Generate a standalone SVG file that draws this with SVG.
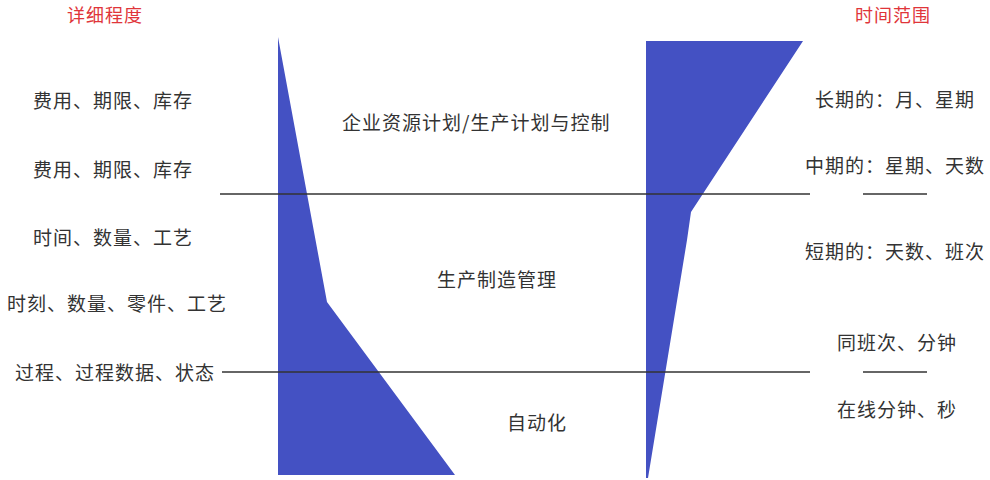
<svg xmlns="http://www.w3.org/2000/svg" width="990" height="480" viewBox="0 0 990 480">
<style>
.t{font-family:"Noto Sans CJK SC","Noto Sans",sans-serif;font-size:19px;fill:#333;letter-spacing:1px}
.h{font-family:"Noto Sans CJK SC","Noto Sans",sans-serif;font-size:18px;fill:#e0353a;letter-spacing:1px}
.ln{stroke:#333;stroke-width:1.5;fill:none}
.blue{fill:#4451c3}
</style>
<rect width="990" height="480" fill="#fff"/>
<g id="shapes">
<polygon class="blue" points="278,37 327,302 455,475 278,475"/>
<polygon class="blue" points="646,41 803,41 691,212 687,240 648,478 646,478"/>
</g>
<g id="connectors">
<line class="ln" x1="220" y1="194" x2="810" y2="194"/>
<line class="ln" x1="863" y1="194" x2="927" y2="194"/>
<line class="ln" x1="222" y1="372" x2="810" y2="372"/>
<line class="ln" x1="863" y1="372" x2="927" y2="372"/>
</g>
<g id="left-labels">
<text class="h" x="67" y="22">详细程度</text>
<text class="t" x="33" y="108">费用、期限、库存</text>
<text class="t" x="33" y="177">费用、期限、库存</text>
<text class="t" x="33" y="245">时间、数量、工艺</text>
<text class="t" x="7" y="311">时刻、数量、零件、工艺</text>
<text class="t" x="15" y="380">过程、过程数据、状态</text>
</g>
<g id="center-labels">
<text class="t" x="342" y="130">企业资源计划/生产计划与控制</text>
<text class="t" x="437" y="287">生产制造管理</text>
<text class="t" x="507" y="430">自动化</text>
</g>
<g id="right-labels">
<text class="h" x="855" y="22">时间范围</text>
<text class="t" x="815" y="107">长期的：月、星期</text>
<text class="t" x="805" y="173">中期的：星期、天数</text>
<text class="t" x="805" y="259">短期的：天数、班次</text>
<text class="t" x="837" y="350">同班次、分钟</text>
<text class="t" x="837" y="417">在线分钟、秒</text>
</g>
</svg>
